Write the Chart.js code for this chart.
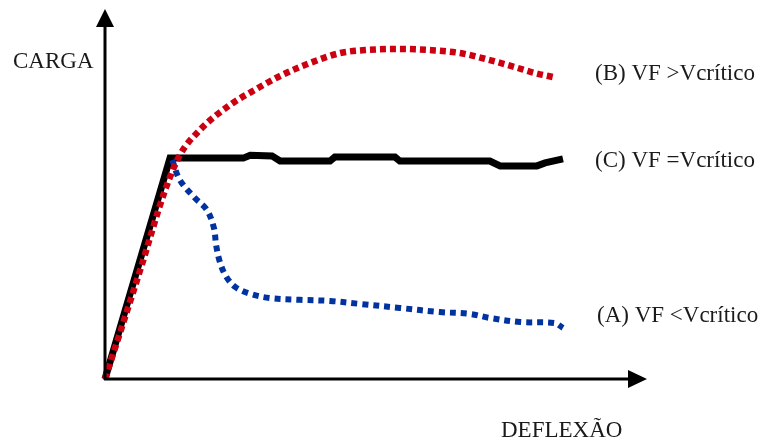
<!DOCTYPE html>
<html>
<head>
<meta charset="utf-8">
<script src="https://cdn.jsdelivr.net/npm/chart.js@4.4.1/dist/chart.umd.min.js"></script>
<style>
  html, body { margin: 0; padding: 0; background: #fff; }
  #wrap { width: 764px; height: 441px; position: relative; }
</style>
</head>
<body>
<div id="wrap"><canvas id="c" width="764" height="441"></canvas></div>
<script>
// curvas (deflexão 0-100, carga 0-100)
const caseC_x = [0, 12.0, 25.5, 26.8, 30.8, 32.3, 41.5, 42.4, 53.5, 54.4, 71.0, 72.9, 79.7, 81.2, 84.5];
const caseC_y = [0, 59.7, 59.7, 60.5, 60.3, 58.9, 58.9, 60.0, 60.0, 58.9, 58.9, 57.6, 57.6, 58.4, 59.5];

const caseB_x = [0, 6.5, 11.1, 13.8, 17.5, 23.1, 28.2, 32.3, 37.8, 43.4, 48.0, 54.4, 60.0, 65.5, 71.0, 75.6, 79.3, 82.7];
const caseB_y = [0, 29.5, 51.1, 60.5, 67.3, 74.1, 78.6, 81.9, 85.4, 88.1, 88.9, 89.2, 88.9, 88.1, 86.2, 84.3, 82.7, 81.6];

const caseA_x = [12.4, 13.8, 16.6, 18.8, 20.1, 20.5, 21.2, 22.3, 24.0, 26.8, 30.4, 36.0, 41.5, 47.0, 54.4, 61.8, 67.3, 71.0, 76.6, 83.0, 84.5];
const caseA_y = [59.2, 53.8, 48.9, 45.7, 40.8, 36.2, 31.6, 27.8, 24.9, 23.0, 21.9, 21.4, 21.1, 20.3, 19.2, 18.1, 17.6, 16.5, 15.4, 15.1, 13.8];

const labelA = '(A) VF <Vcrítico';
const labelB = '(B) VF >Vcrítico';
const labelC = '(C) VF =Vcrítico';
const xTitle = 'DEFLEXÃO';
const yTitle = 'CARGA';

const pts = (xs, ys) => xs.map((x, i) => ({ x: x, y: ys[i] }));

// eixos com setas + textos
const eixos = {
  id: 'eixos',
  afterDatasetsDraw(chart) {
    const ctx = chart.ctx;
    const sx = chart.scales.x, sy = chart.scales.y;
    const x0 = sx.getPixelForValue(0), y0 = sy.getPixelForValue(0);
    const xEnd = sx.getPixelForValue(100), yEnd = sy.getPixelForValue(100);
    ctx.save();
    ctx.strokeStyle = '#000';
    ctx.fillStyle = '#000';
    ctx.lineWidth = 3;
    ctx.beginPath();
    ctx.moveTo(x0, y0 + 1);
    ctx.lineTo(x0, yEnd + 14);
    ctx.moveTo(x0 - 1, y0);
    ctx.lineTo(xEnd - 14, y0);
    ctx.stroke();
    ctx.beginPath();
    ctx.moveTo(x0, yEnd);
    ctx.lineTo(x0 - 9, yEnd + 18);
    ctx.lineTo(x0 + 9, yEnd + 18);
    ctx.closePath();
    ctx.fill();
    ctx.beginPath();
    ctx.moveTo(xEnd, y0);
    ctx.lineTo(xEnd - 19, y0 - 9);
    ctx.lineTo(xEnd - 19, y0 + 9);
    ctx.closePath();
    ctx.fill();

    ctx.fillStyle = '#1a1a1a';
    ctx.font = '23px "Liberation Serif", "Times New Roman", serif';
    ctx.textBaseline = 'alphabetic';
    ctx.textAlign = 'left';
    ctx.fillText(yTitle, 13, 68);
    ctx.fillText(xTitle, 501, 437);
    ctx.fillText(labelB, 595, 80);
    ctx.fillText(labelC, 595, 167);
    ctx.fillText(labelA, 597, 322);
    ctx.restore();
  }
};

new Chart(document.getElementById('c'), {
  type: 'line',
  data: {
    datasets: [
      {
        label: labelB,
        data: pts(caseB_x, caseB_y),
        borderColor: '#cc0011',
        borderWidth: 6.5,
        borderDash: [6, 4],
        cubicInterpolationMode: 'monotone',
        pointRadius: 0,
        order: 1
      },
      {
        label: labelA,
        data: pts(caseA_x, caseA_y),
        borderColor: '#0033a0',
        borderWidth: 6,
        borderDash: [6, 5],
        tension: 0.35,
        pointRadius: 0,
        order: 2
      },
      {
        label: labelC,
        data: pts(caseC_x, caseC_y),
        borderColor: '#000',
        borderWidth: 7,
        tension: 0,
        pointRadius: 0,
        order: 3
      }
    ]
  },
  options: {
    responsive: false,
    animation: false,
    clip: false,
    layout: { padding: { left: 105, right: 117, top: 9, bottom: 62 } },
    plugins: { legend: { display: false }, tooltip: { enabled: false } },
    scales: {
      x: { type: 'linear', min: 0, max: 100, display: false },
      y: { type: 'linear', min: 0, max: 100, display: false }
    }
  },
  plugins: [eixos]
});
</script>
</body>
</html>
